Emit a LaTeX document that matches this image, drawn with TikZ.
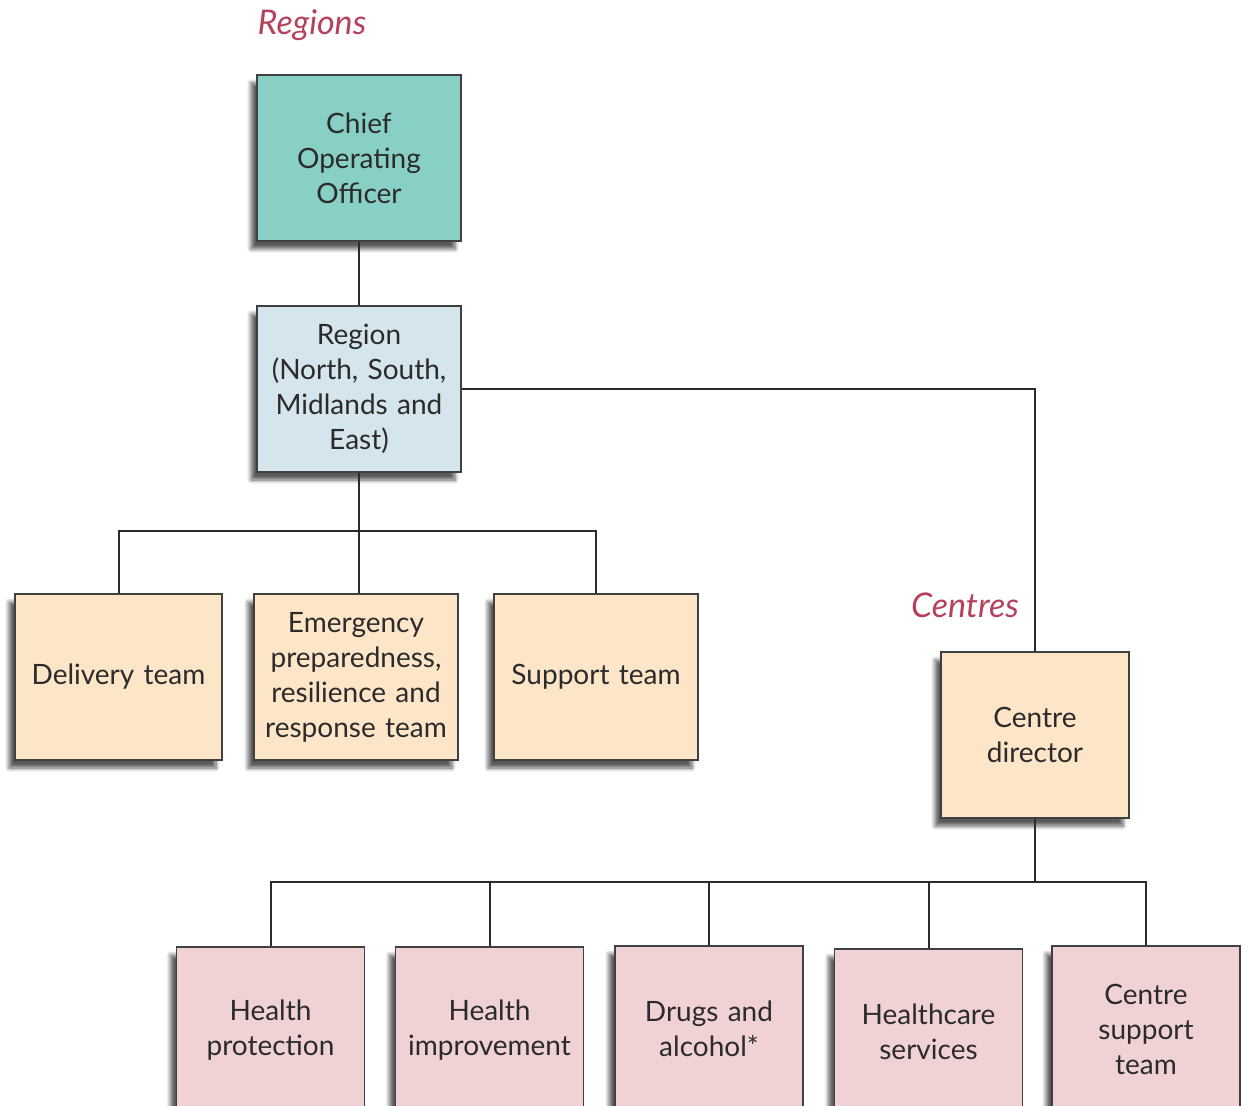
\documentclass[tikz,border=0pt]{standalone}
\usepackage{fontspec}
\setmainfont{Lato}
\usetikzlibrary{calc,shadows.blur}

\definecolor{cooteal}{HTML}{88D0C6}
\definecolor{regblue}{HTML}{D4E5EE}
\definecolor{teampeach}{HTML}{FDE5C8}
\definecolor{unitpink}{HTML}{F0D2D4}
\definecolor{labelred}{HTML}{B5415F}
\definecolor{inkgray}{HTML}{2B2B2B}

\begin{document}
\begin{tikzpicture}[x=0.5pt,y=-0.5pt,
   box/.style={rectangle,draw=inkgray!90,line width=0.6pt,inner sep=0pt,
    minimum width=102pt,minimum height=83pt,text width=96pt,align=center,
    text=inkgray,font=\fontsize{14}{17.5}\selectfont,
    blur shadow={shadow xshift=-3pt,shadow yshift=-4pt,shadow blur steps=8,shadow opacity=65}},
   unit/.style={box,minimum width=94pt,text width=92pt,fill=unitpink},
   tag/.style={text=labelred,font=\fontsize{17}{20}\selectfont\itshape},
   link/.style={draw=inkgray,line width=1pt}
    ]
    \useasboundingbox (0,0) rectangle (1248,1106);

    % Labels:
    \node[tag] at (312,25) (regions) {Regions};
    \node[tag] at (965,605) (centres) {Centres};

    % Boxes:
    \node[box,fill=cooteal] at (359,158) (coo) {Chief\\Operating\\Officer};
    \node[box,fill=regblue] at (359,389) (reg) {Region\\(North, South,\\Midlands and\\East)};
    \node[box,fill=teampeach,minimum width=103.5pt] at (118.5,677) (del) {Delivery team};
    \node[box,fill=teampeach] at (356,677) (eme) {Emergency\\preparedness,\\resilience and\\response team};
    \node[box,fill=teampeach] at (596,677) (sup) {Support team};
    \node[box,fill=teampeach,minimum width=94pt,text width=90pt] at (1035,735) (cd) {Centre\\director};

    \node[unit] at (270.5,1030) (hp) {Health\\protection};
    \node[unit] at (489.5,1030) (hi) {Health\\improvement};
    \node[unit] at (709,1029) (da) {Drugs and\\alcohol*};
    \node[unit] at (928.5,1032) (hs) {Healthcare\\services};
    \node[unit] at (1146,1029) (cs) {Centre\\support\\team};

    % junctions
    \coordinate (rj) at ($(reg.south)+(0,58)$);
    \coordinate (cj) at ($(cd.south)+(0,63)$);

    % lines
    \draw[link] (coo) -- (reg);
    \draw[link] (reg.south) -- (rj);
    \draw[link] (del.north) |- (rj) -| (sup.north);
    \draw[link] (rj) -- (rj |- eme.north);
    \draw[link] (reg.east) -| (cd.north);
    \draw[link] (cd.south) -- (cj);
    \draw[link] (hp.north) |- (cj) -| (cs.north);
    \foreach \n in {hi,da,hs}
      \draw[link] (\n.north) -- (\n.north |- cj);

\end{tikzpicture}
\end{document}
